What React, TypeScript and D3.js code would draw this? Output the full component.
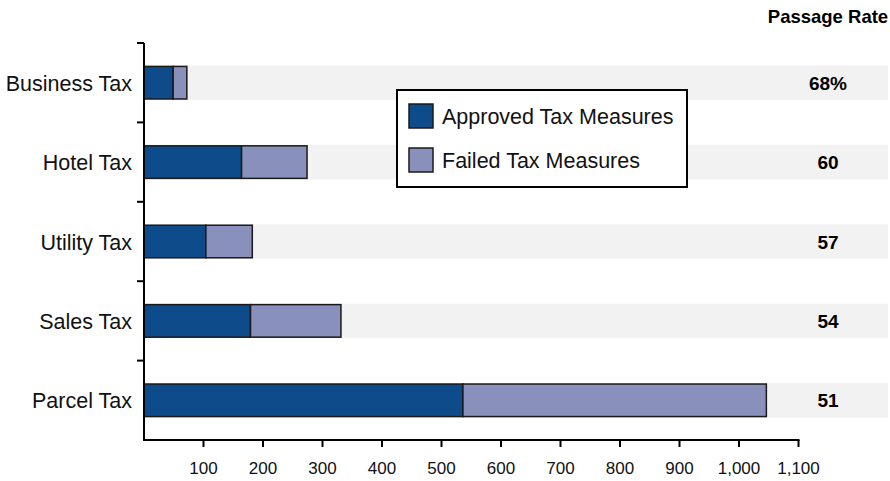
import React from 'react';
import * as d3 from 'd3';

const categories = ['Business Tax', 'Hotel Tax', 'Utility Tax', 'Sales Tax', 'Parcel Tax'];
const approved = [49, 164, 104, 179, 536];
const failed = [23, 110, 78, 152, 510];
const passageRates = ['68%', '60', '57', '54', '51'];
const xTicks = [100, 200, 300, 400, 500, 600, 700, 800, 900, 1000, 1100];
const seriesNames = ['Approved Tax Measures', 'Failed Tax Measures'];

const colors = ['#0e4b8b', '#8890bb'];
const font = '"Liberation Sans", Arial, Helvetica, sans-serif';

const W = 890;
const H = 481;

const App: React.FC = () => {
  const x = d3.scaleLinear().domain([0, 1100]).range([144, 798.5]);
  const y = d3.scaleBand<string>().domain(categories).range([43, 440]).padding(0);
  const barH = y.bandwidth() * 0.41;
  const fmt = d3.format(',');

  const boundaries = categories.map(c => y(c) as number);

  return (
    <svg width={W} height={H} style={{ position: 'absolute', left: 0, top: 0 }} fontFamily={font}>
      <rect width={W} height={H} fill="#fff" />

      {/* Gray row bands */}
      {categories.map(c => {
        const cy = (y(c) as number) + y.bandwidth() / 2;
        return <rect key={'band' + c} x={x(0)} y={cy - barH / 2 - 1} width={888 - x(0)} height={barH + 2} fill="#f2f2f2" />;
      })}

      {/* Bars */}
      {categories.map((c, i) => {
        const cy = (y(c) as number) + y.bandwidth() / 2;
        return (
          <g key={'bar' + c}>
            <rect x={x(0)} y={cy - barH / 2} width={x(approved[i]) - x(0)} height={barH}
              fill={colors[0]} stroke="#1a1a1a" strokeWidth={1.5} />
            <rect x={x(approved[i])} y={cy - barH / 2} width={x(approved[i] + failed[i]) - x(approved[i])} height={barH}
              fill={colors[1]} stroke="#1a1a1a" strokeWidth={1.5} />
          </g>
        );
      })}

      {/* Y axis */}
      <line x1={x(0)} x2={x(0)} y1={43} y2={441} stroke="#000" strokeWidth={2} />
      {boundaries.map((b, i) => (
        <line key={'yt' + i} x1={x(0) - 7} x2={x(0)} y1={b} y2={b} stroke="#000" strokeWidth={2} />
      ))}
      {categories.map(c => (
        <text key={'lbl' + c} x={132} y={(y(c) as number) + y.bandwidth() / 2 + 8}
          textAnchor="end" fontSize={21.5} fill="#111">{c}</text>
      ))}

      {/* X axis */}
      <line x1={x(0) - 1} x2={x(1100) + 1} y1={440} y2={440} stroke="#000" strokeWidth={2} />
      {xTicks.map(t => (
        <g key={'xt' + t}>
          <line x1={x(t)} x2={x(t)} y1={440} y2={447} stroke="#000" strokeWidth={2} />
          <text x={x(t)} y={474} textAnchor="middle" fontSize={17} fill="#111">{fmt(t)}</text>
        </g>
      ))}

      {/* Passage rate column */}
      <text x={828} y={23} textAnchor="middle" fontSize={18.5} fontWeight="bold" fill="#000">Passage Rate</text>
      {categories.map((c, i) => (
        <text key={'pr' + c} x={828} y={(y(c) as number) + y.bandwidth() / 2 + 7}
          textAnchor="middle" fontSize={19} fontWeight="bold" fill="#000">{passageRates[i]}</text>
      ))}

      {/* Legend */}
      <g>
        <rect x={397} y={90} width={290} height={97} fill="#fff" stroke="#000" strokeWidth={2} />
        {seriesNames.map((s, i) => (
          <g key={'lg' + s}>
            <rect x={409} y={104 + i * 44} width={24} height={24} fill={colors[i]} stroke="#1a1a1a" strokeWidth={1.5} />
            <text x={442} y={124 + i * 44} fontSize={21.5} fill="#111">{s}</text>
          </g>
        ))}
      </g>
    </svg>
  );
};

export default App;
